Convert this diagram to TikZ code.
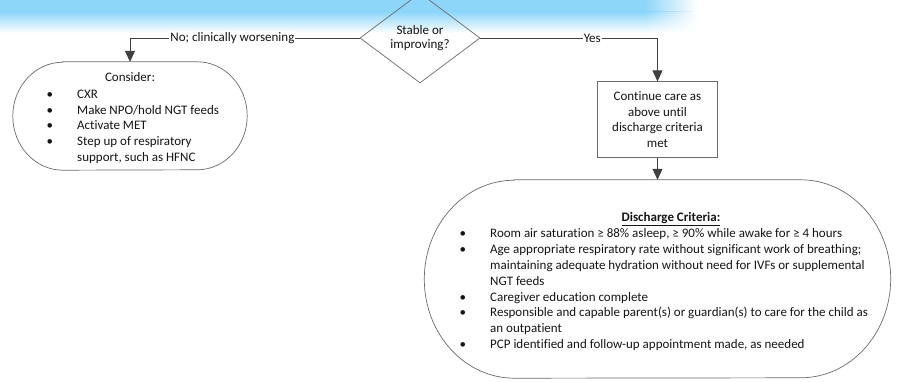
\documentclass[tikz,border=0pt]{standalone}
\usepackage{fontspec}
\setmainfont{Carlito}[Ligatures={NoCommon}]
\usetikzlibrary{arrows.meta,shapes.geometric,fadings}
\tikzfading[name=bandfade, left color=transparent!0, right color=transparent!100]
\definecolor{bandblue}{HTML}{8ED6F9}
\definecolor{linegray}{HTML}{404040}
\definecolor{shapegray}{HTML}{6A6A6A}
\newcommand\bulitem{\makebox[30.5pt][l]{\textbullet}}
\newcommand\contline{\hspace*{30.5pt}}
\begin{document}
\begin{tikzpicture}[x=1pt,y=1pt,
  txt/.style={font=\fontsize{13}{15.8}\selectfont, inner sep=0pt, text=black!92},
  outline/.style={draw=shapegray, line width=0.7pt},
  conn/.style={draw=linegray, line width=0.8pt},
  arr/.style={conn, -{Triangle[width=10pt,length=11pt]}},
  lbl/.style={txt, fill=white, inner xsep=1pt, inner ysep=1pt}
]
\useasboundingbox (0,0) rectangle (897,-382);
% top banner
\fill[bandblue] (0,0) rectangle (645,-12);
\shade[top color=bandblue, bottom color=white] (0,-12) rectangle (645,-33);
\fill[bandblue, path fading=bandfade] (645,0) rectangle (697,-12);
\shade[top color=bandblue, bottom color=white, path fading=bandfade] (645,-12) rectangle (697,-33);

% decision
\node[diamond, outline, txt, minimum width=120, minimum height=90, inner sep=0pt,
      align=center, font=\fontsize{13}{14}\selectfont] (dec) at (420,-38) {Stable or\\improving?};

% consider shape
\node[minimum width=234, minimum height=108, inner sep=0pt] (consider) at (130,-116) {};
\draw[outline] ([xshift=50pt]consider.north west) -- ([xshift=-50pt]consider.north east)
  arc[start angle=90, end angle=-90, x radius=50, y radius=54]
  -- ([xshift=50pt]consider.south west)
  arc[start angle=270, end angle=90, x radius=50, y radius=54] -- cycle;
\node[txt, anchor=base] (ctitle) at (130,-81.5) {Consider:};
% anchor base = baseline of the last line
\node[txt, anchor=base west, align=left] (clist) at (46.5,-161.5)
  {\bulitem CXR\\
   \bulitem Make NPO/hold NGT feeds\\
   \bulitem Activate MET\\
   \bulitem Step up of respiratory\\
   \contline support, such as HFNC};

% continue box
\node[txt, outline, minimum width=120, minimum height=75.5, align=center] (cont) at (657.5,-119.5)
  {Continue care as\\above until\\discharge criteria\\met};

% discharge shape
\node[minimum width=466, minimum height=198, inner sep=0pt] (disc) at (657.5,-279) {};
\draw[outline] ([xshift=90pt]disc.north west) -- ([xshift=-90pt]disc.north east)
  arc[start angle=90, end angle=-90, x radius=90, y radius=99]
  -- ([xshift=90pt]disc.south west)
  arc[start angle=270, end angle=90, x radius=90, y radius=99] -- cycle;
\node[txt, anchor=base, font=\fontsize{13}{15.8}\selectfont\bfseries] (dhead) at (671,-221.5)
  {\underline{Discharge Criteria:}};
\node[txt, anchor=base west, align=left] (dlist) at (459.5,-348.5)
  {\bulitem Room air saturation ≥ 88\% asleep, ≥ 90\% while awake for ≥ 4 hours\\
   \bulitem Age appropriate respiratory rate without significant work of breathing;\\
   \contline maintaining adequate hydration without need for IVFs or supplemental\\
   \contline NGT feeds\\
   \bulitem Caregiver education complete\\
   \bulitem Responsible and capable parent(s) or guardian(s) to care for the child as\\
   \contline an outpatient\\
   \bulitem PCP identified and follow-up appointment made, as needed};

% connectors
\draw[arr] (dec.west) -| node[lbl, pos=0.277] {No; clinically worsening} (consider.north);
\draw[arr] (dec.east) -| node[lbl, pos=0.316] {Yes} (cont.north);
\draw[arr] (cont.south) -- (disc.north);
\end{tikzpicture}
\end{document}
